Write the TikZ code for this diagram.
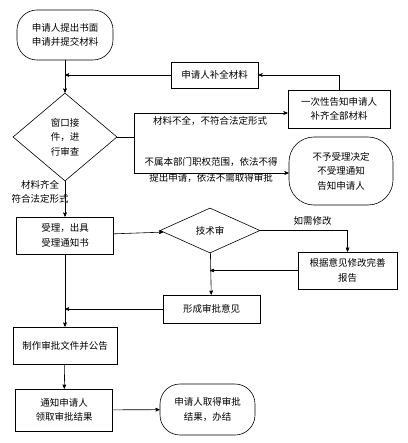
\documentclass[tikz,border=0pt]{standalone}
\usepackage{fontspec}
\newfontfamily\cjk{Noto Sans CJK SC}
\usetikzlibrary{arrows,shapes.geometric}

\begin{document}
\begin{tikzpicture}[->,>=stealth',x=1pt,y=-1pt,semithick,font=\cjk\fontsize{9.5}{14.5}\selectfont]

        \tikzstyle{box}=[draw=black,rectangle,align=center,inner sep=2pt]
        \tikzstyle{term}=[draw=black,rectangle,rounded corners=20pt,align=center,inner sep=2pt]
        \tikzstyle{check}=[draw=black,diamond,aspect=2,align=center,inner sep=0pt]
        \tikzstyle{note}=[align=center,inner sep=1pt]

        \useasboundingbox (0,0) rectangle (407,443);

        \node[term, minimum width=96pt, minimum height=50pt]   (0)  at (65,35)      {申请人提出书面\\申请并提交材料};
        \node[check, minimum width=96pt, minimum height=88pt]  (1)  at (65,137)     {窗口接\\件，进\\行审查};
        \node[box, minimum width=87pt, minimum height=26pt]    (2)  at (214.5,75)   {申请人补全材料};
        \node[box, minimum width=102pt, minimum height=38pt]   (3)  at (339,109)    {一次性告知申请人\\补齐全部材料};
        \node[term, minimum width=104pt, minimum height=68pt, rounded corners=25pt]
                                                               (4)  at (341,171)    {不予受理决定\\不受理通知\\告知申请人};
        \node[box, minimum width=97pt, minimum height=37pt]    (5)  at (65,235.5)   {受理，出具\\受理通知书};
        \node[check, minimum width=100pt, minimum height=45pt] (6)  at (210,230.5)  {技术审};
        \node[box, minimum width=99pt, minimum height=37pt]    (7)  at (347.5,270.5) {根据意见修改完善\\报告};
        \node[box, minimum width=97pt, minimum height=28pt]    (8)  at (211.5,309)  {形成审批意见};
        \node[box, minimum width=104pt, minimum height=37pt]   (9)  at (65,345.5)   {制作审批文件并公告};
        \node[box, minimum width=97pt, minimum height=42pt]    (10) at (64,410)     {通知申请人\\领取审批结果};
        \node[term, minimum width=95pt, minimum height=51pt]   (11) at (207.5,409.5) {申请人取得审批\\结果，办结};

        % fork to the right of the first check
        \coordinate (f0) at (134,137);
        \coordinate (f1) at (134,113);
        \coordinate (f2) at (134,173);
        \coordinate (j1) at (2.west -| 0.south);
        \coordinate (j2) at (7.west -| 6.south);
        \coordinate (j3) at (8.west -| 5.south);

        \node[note] (l1) at (210,121) {材料不全，不符合法定形式};
        \node[note, font=\cjk\fontsize{9.5}{16}\selectfont] (l2) at (211,170) {不属本部门职权范围，依法不得\\提出申请，依法不需取得审批};

        \path
        (0)  edge (1)
        (1)  edge node[note, pos=0.3, left=-5pt] {材料齐全\\符合法定形式} (5)
        (5)  edge (6)
        (6)  edge (8)
        (5)  edge (9)
        (9)  edge (10)
        (10) edge (11)
        ;

        \draw (2.west) -- (j1);
        \draw (3.north) |- (2.east);
        \draw[-] (1.east) -- (f0);
        \draw[-] (f1) -- (f2);
        \draw (f1) -- (f1 -| 3.west);
        \draw (f2) -- (f2 -| 4.west);
        \draw (6.east) -| node[note, pos=0.3, above=4pt] {如需修改} (7.north);
        \draw (7.west) -- (j2);
        \draw (8.west) -- (j3);

    \end{tikzpicture}
\end{document}
